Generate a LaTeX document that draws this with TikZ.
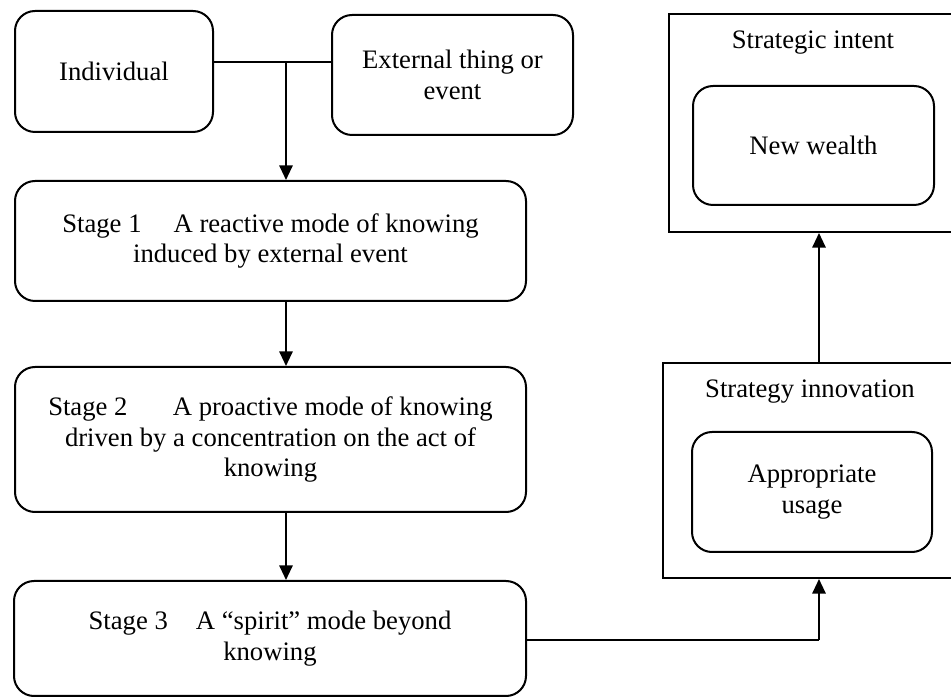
\documentclass[tikz,border=0pt]{standalone}
\usepackage{fontspec}
\setmainfont{Liberation Serif}
\usetikzlibrary{arrows.meta}
\begin{document}
\begin{tikzpicture}[x=0.75pt,y=-0.75pt,
  every node/.style={font=\fontsize{20}{23}\selectfont, align=center, inner sep=0pt},
  size/.style 2 args={minimum width=#1*0.75pt, minimum height=#2*0.75pt},
  roundbox/.style={draw, line width=1.5pt, rounded corners=15pt},
  squarebox/.style={draw, line width=1.5pt},
  link/.style={line width=0.9pt},
  flow/.style={line width=1.5pt, -{Triangle[length=11pt,width=10pt]}}]
\clip (0,0) rectangle (951,698);
\useasboundingbox (0,0) rectangle (951,698);

% left column: sources and the three stages
\node[roundbox, size={198}{121}] (ind) at (114,71.5) {Individual};
\node[roundbox, size={241}{120}] (ext) at (452.5,75) {External thing or\\event};
\node[roundbox, size={511}{120}] (s1) at (270.5,241)
  {Stage 1\hspace{24pt}A reactive mode of knowing\\induced by external event};
\node[roundbox, size={511}{145}] (s2) at (270.5,439.5)
  {Stage 2\hspace{34pt}A proactive mode of knowing\\driven by a concentration on the act of\\knowing};
\node[roundbox, size={512}{115}] (s3) at (270,638.5)
  {Stage 3\hspace{21pt}A ``spirit'' mode beyond\\knowing};

% right column: strategy innovation and strategic intent
\node[squarebox, size={288}{218}] (intent) at (813,123) {};
\node (intenttitle) at (813,43) {Strategic intent};
\node[roundbox, size={241}{119}] (wealth) at (813.5,145.5) {New wealth};

\node[squarebox, size={294}{215}] (innov) at (810,470.5) {};
\node (innovtitle) at (810,392) {Strategy innovation};
\node[roundbox, size={240}{120}] (usage) at (812,492) {Appropriate\\usage};

% connectors
\coordinate (j) at (286,62);
\coordinate (k) at (819,640);
\draw[link] (ind.east |- j) -- (ext.west |- j);
\draw[flow] (j) -- (s1.north -| j);
\draw[flow] (s1.south -| j) -- (s2.north -| j);
\draw[flow] (s2.south -| j) -- (s3.north -| j);
\draw[link] (s3.east |- k) -- (k);
\draw[flow] (k) -- (innov.south -| k);
\draw[flow] (innov.north -| k) -- (intent.south -| k);
\end{tikzpicture}
\end{document}
